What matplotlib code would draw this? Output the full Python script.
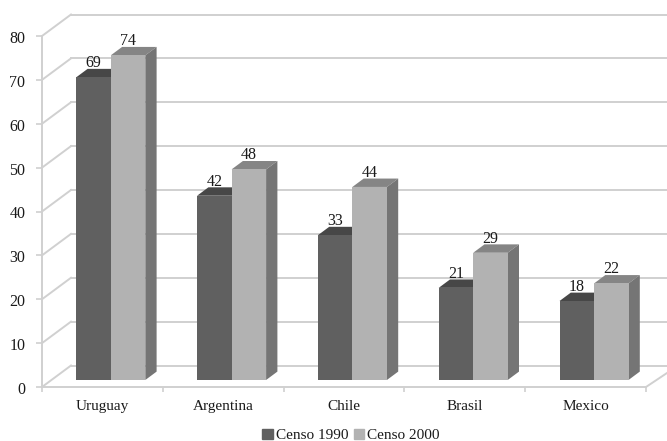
import matplotlib
matplotlib.use("Agg")
from matplotlib import pyplot as plt
from matplotlib.patches import Patch
from matplotlib.transforms import ScaledTranslation

paises = ["Uruguay", "Argentina", "Chile", "Brasil", "Mexico"]
censo_1990 = [69, 42, 33, 21, 18]
censo_2000 = [74, 48, 44, 29, 22]
y_ticks = [0, 10, 20, 30, 40, 50, 60, 70, 80]

W, H = 667, 441
plt.rcParams["font.family"] = ["Liberation Serif", "DejaVu Serif"]

fig = plt.figure(figsize=(W / 100, H / 100), dpi=100, facecolor="white")
# axes box is the front edge of the fake 3d floor
ax = fig.add_axes([42 / W, 1 - 387 / H, 604 / W, 351 / H])
ax.set_xlim(0, 5)
ax.set_ylim(0, 80)

px_x = 5 / 604
px_y = 80 / 351
grid_col = "#d0d0d0"

# depth of the chart box and of the bars, in data units
wall_dx, wall_dy = 29 * px_x, 21.5 * px_y
bar_dx, bar_dy = 11.3 * px_x, 8.4 * px_y
floor_x, floor_y = 8.4 * px_x, 7 * px_y
bar_w = 34.5 * px_x

for v in y_ticks:
    ax.plot([0, wall_dx], [v, v + wall_dy], color=grid_col, lw=1.4, clip_on=False, zorder=1)
    ax.plot([wall_dx, 5 + 21 * px_x], [v + wall_dy, v + wall_dy], color=grid_col, lw=1.4,
            clip_on=False, zorder=1)
# right edge of the floor
ax.plot([5, 5 + 21 * px_x], [0, 14 * px_y], color=grid_col, lw=1.4, clip_on=False, zorder=1)


def draw_bars(values, offset, front, top, side, z):
    for i, v in enumerate(values):
        x0 = i + 0.5 + floor_x - bar_w + offset * bar_w
        x1 = x0 + bar_w
        y1 = floor_y + v
        ax.bar(x0, v, bar_w, bottom=floor_y, align="edge", color=front, lw=0, zorder=z + 1)
        ax.fill([x0, x0 + bar_dx, x1 + bar_dx, x1], [y1, y1 + bar_dy, y1 + bar_dy, y1],
                color=top, lw=0, zorder=z, clip_on=False)
        ax.fill([x1, x1 + bar_dx, x1 + bar_dx, x1], [floor_y, floor_y + bar_dy, y1 + bar_dy, y1],
                color=side, lw=0, zorder=z, clip_on=False)
        ax.text((x0 + x1) / 2, y1 + 14 * px_y, str(v), ha="center", va="center",
                fontsize=11.5, color="#1a1a1a", zorder=10)


draw_bars(censo_1990, 0, "#606060", "#474747", "#4e4e4e", 3)
draw_bars(censo_2000, 1, "#b2b2b2", "#858585", "#757575", 5)

for s in ("top", "right"):
    ax.spines[s].set_visible(False)
for s in ("left", "bottom"):
    ax.spines[s].set_color(grid_col)
    ax.spines[s].set_linewidth(1.4)

ax.set_yticks(y_ticks)
ax.tick_params(axis="y", length=4, color=grid_col, width=1.2, labelsize=11.5,
               labelcolor="#1a1a1a", pad=8)
nudge = ScaledTranslation(0, -1 / 100, fig.dpi_scale_trans)
for lab in ax.get_yticklabels():
    lab.set_transform(lab.get_transform() + nudge)

ax.set_xticks(range(6))
ax.set_xticklabels([])
ax.tick_params(axis="x", which="major", length=3.5, color=grid_col, width=1.2)
ax.set_xticks([i + 0.5 for i in range(5)], minor=True)
ax.set_xticklabels(paises, minor=True)
ax.tick_params(axis="x", which="minor", length=0, labelsize=11, labelcolor="#1a1a1a", pad=9.5)

handles = [Patch(color="#606060", label="Censo 1990"), Patch(color="#b2b2b2", label="Censo 2000")]
fig.legend(handles=handles, loc="center", bbox_to_anchor=(351 / W, 1 - 435.5 / H), ncol=2,
           frameon=False, fontsize=11, handlelength=0.7, handleheight=0.7,
           handletextpad=0.2, columnspacing=0.35, borderpad=0, labelcolor="#1a1a1a")

fig.savefig("out.png", dpi=100, facecolor="white")
